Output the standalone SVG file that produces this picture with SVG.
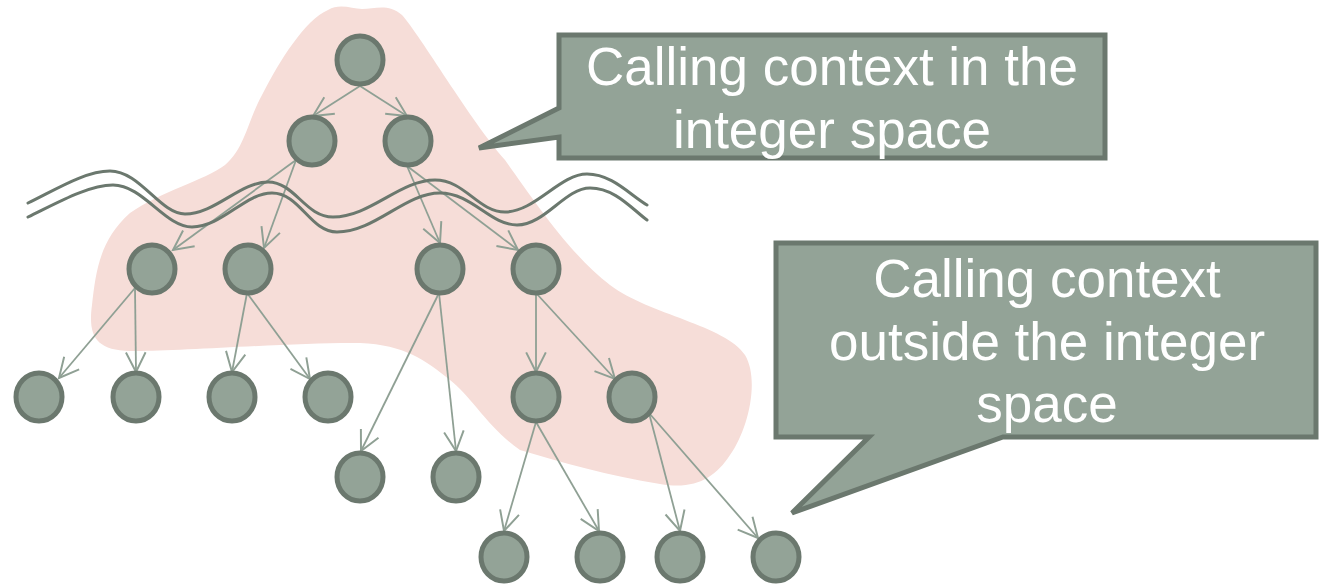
<svg xmlns="http://www.w3.org/2000/svg" width="1320" height="584" viewBox="0 0 1320 584">
  <defs>
    <style>
      .node { fill: #93a397; stroke: #6b786e; stroke-width: 5; }
      .edge { fill: none; stroke: #8fa094; stroke-width: 1.8; marker-end: url(#head); }
      .wave { fill: none; stroke: #6b786e; stroke-width: 3; stroke-linecap: round; }
      .callout { fill: #93a397; stroke: #6b786e; stroke-width: 5; stroke-linejoin: miter; }
      .label { font-family: "Liberation Sans", Arial, sans-serif; font-size: 53px; fill: #ffffff; text-anchor: middle; }
    </style>
    <marker id="head" markerUnits="userSpaceOnUse" markerWidth="24" markerHeight="24" viewBox="-20 -11 22 22" refX="0" refY="0" orient="auto">
      <path d="M-18,-9 L0,0 L-18,9" fill="none" stroke="#8fa094" stroke-width="1.8"/>
    </marker>
  </defs>

  <!-- shaded region -->
  <path id="region" fill="#f6ddd8" d="M328,10 C340,3 352,9 362,9 C375,9 388,3 402,15 C420,35 470,120 505,160 C530,195 570,255 610,285 C650,315 725,325 745,355 C760,380 748,430 730,455 C715,478 695,490 660,484 C610,476 560,462 520,450 C490,430 470,395 450,380 C425,360 405,345 360,343 C300,342 170,352 130,351 C95,350 88,335 92,305 C96,270 100,240 130,213 C160,192 205,180 225,165 C245,148 248,120 262,95 C280,60 305,20 328,10 Z"/>

  <!-- connectors -->
  <g id="connectors">
    <path class="edge" d="M360,86 L313,116"/>
    <path class="edge" d="M360,86 L407,116"/>
    <path class="edge" d="M296,160 L173,250"/>
    <path class="edge" d="M296,160 L264,248"/>
    <path class="edge" d="M407,166 L440,243"/>
    <path class="edge" d="M407,166 L518,250"/>
    <path class="edge" d="M135,288 L59,378"/>
    <path class="edge" d="M135,288 L136,372"/>
    <path class="edge" d="M247,293 L232,372"/>
    <path class="edge" d="M247,293 L310,379"/>
    <path class="edge" d="M439,293 L361,451"/>
    <path class="edge" d="M439,293 L456,451"/>
    <path class="edge" d="M536,293 L536,372"/>
    <path class="edge" d="M536,293 L615,379"/>
    <path class="edge" d="M536,422 L504,531"/>
    <path class="edge" d="M536,422 L599,531"/>
    <path class="edge" d="M649,413 L680,531"/>
    <path class="edge" d="M649,413 L758,538"/>
  </g>

  <!-- boundary double wave -->
  <g id="boundary">
    <path class="wave" d="M28,203 C55,190 85,171 110,171 C140,171 160,214 185,214 C215,214 240,182 268,182 C295,182 305,217 333,217 C370,217 400,180 435,180 C465,180 478,212 505,212 C535,212 560,174 587,174 C612,174 630,195 647,205"/>
    <path class="wave" d="M28,217 C55,204 88,185 113,185 C143,185 165,227 192,227 C222,227 245,193 272,193 C300,193 310,232 337,232 C375,232 405,193 440,193 C472,193 490,225 517,225 C545,225 565,188 590,188 C615,188 632,209 647,220"/>
  </g>

  <!-- call tree nodes -->
  <g id="n0"><ellipse class="node" cx="360" cy="60" rx="23" ry="24"/></g>
  <g id="n1"><ellipse class="node" cx="312" cy="141" rx="23" ry="24"/></g>
  <g id="n2"><ellipse class="node" cx="408" cy="141" rx="23" ry="24"/></g>
  <g id="n3"><ellipse class="node" cx="152" cy="269" rx="23" ry="24"/></g>
  <g id="n4"><ellipse class="node" cx="248" cy="269" rx="23" ry="24"/></g>
  <g id="n5"><ellipse class="node" cx="440" cy="269" rx="23" ry="24"/></g>
  <g id="n6"><ellipse class="node" cx="536" cy="269" rx="23" ry="24"/></g>
  <g id="n7"><ellipse class="node" cx="39" cy="397" rx="23" ry="24"/></g>
  <g id="n8"><ellipse class="node" cx="136" cy="397" rx="23" ry="24"/></g>
  <g id="n9"><ellipse class="node" cx="232" cy="397" rx="23" ry="24"/></g>
  <g id="n10"><ellipse class="node" cx="328" cy="397" rx="23" ry="24"/></g>
  <g id="n11"><ellipse class="node" cx="536" cy="397" rx="23" ry="24"/></g>
  <g id="n12"><ellipse class="node" cx="632" cy="397" rx="23" ry="24"/></g>
  <g id="n13"><ellipse class="node" cx="360" cy="477" rx="23" ry="24"/></g>
  <g id="n14"><ellipse class="node" cx="456" cy="477" rx="23" ry="24"/></g>
  <g id="n15"><ellipse class="node" cx="504" cy="557" rx="23" ry="24"/></g>
  <g id="n16"><ellipse class="node" cx="600" cy="557" rx="23" ry="24"/></g>
  <g id="n17"><ellipse class="node" cx="680" cy="557" rx="23" ry="24"/></g>
  <g id="n18"><ellipse class="node" cx="776" cy="557" rx="23" ry="24"/></g>

  <!-- callouts -->
  <g id="callout-inside">
    <path class="callout" d="M559,35 H1105 V158 H559 V137 L479,148 L559,108 Z"/>
    <text class="label" x="832" y="85">Calling context in the</text>
    <text class="label" x="832" y="148">integer space</text>
  </g>
  <g id="callout-outside">
    <path class="callout" d="M776,243 H1316 V437 H1003 L792,513 L869,437 H776 Z"/>
    <text class="label" x="1047" y="297">Calling context</text>
    <text class="label" x="1047" y="360">outside the integer</text>
    <text class="label" x="1047" y="422">space</text>
  </g>
</svg>
